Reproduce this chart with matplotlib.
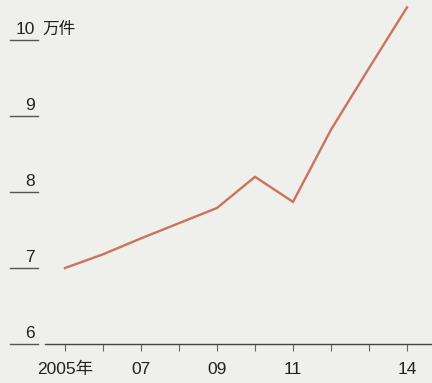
import matplotlib
matplotlib.use("Agg")
import matplotlib.pyplot as plt
import matplotlib.transforms as mtransforms

years = [2005, 2006, 2007, 2008, 2009, 2010, 2011, 2012, 2013, 2014]
values = [7.0, 7.18, 7.39, 7.59, 7.79, 8.2, 7.87, 8.82, 9.63, 10.43]
xtick_pos = [2005, 2007, 2009, 2011, 2014]
xtick_labels = ["2005年", "07", "09", "11", "14"]
ytick_vals = [6, 7, 8, 9, 10]
ytick_labels = ["6", "7", "8", "9", "10"]
unit_label = "万件"

plt.rcParams['font.family'] = ['Liberation Sans', 'Noto Sans CJK JP', 'DejaVu Sans']

W, H = 432, 383
bg = "#efefeb"
fig = plt.figure(figsize=(W / 100, H / 100), dpi=100, facecolor=bg)

ax_left = 45 / W
ax_bottom = (H - 344) / H
ax = fig.add_axes([ax_left, ax_bottom, 1 - ax_left, 344 / H])
ax.set_facecolor(bg)

ax.plot(years, values, color="#cc735d", lw=1.7, solid_joinstyle="miter")

ax.set_xlim(2005 - 20 / 38, 2014 + 25 / 38)
ax.set_ylim(6, 10 + 40 / 76)

for s in ["left", "right", "top"]:
    ax.spines[s].set_visible(False)
ax.spines["bottom"].set_color("#444444")
ax.spines["bottom"].set_linewidth(1.0)

ax.set_xticks(years, minor=True)
ax.set_xticks(xtick_pos)
ax.set_xticklabels(xtick_labels, fontsize=12.5, color="#222222")
ax.tick_params(axis="x", which="both", direction="out", length=5, width=0.8,
               color="#666666", pad=8)
ax.set_yticks([])

# y labels with underline
trans = mtransforms.blended_transform_factory(fig.transFigure, ax.transData)
for v, lab in zip(ytick_vals, ytick_labels):
    ax.plot([10 / W, 38 / W], [v, v], transform=trans, color="#555555", lw=1.0,
            clip_on=False)
    ax.text(35 / W, v + 3 / 76, lab, transform=trans, ha="right", va="bottom",
            fontsize=12.5, color="#222222", clip_on=False)
ax.text(42 / W, 10 + 3 / 76, unit_label, transform=trans, ha="left", va="bottom",
        fontsize=12, color="#222222", clip_on=False)

fig.savefig("out.png", dpi=100, facecolor=bg)
